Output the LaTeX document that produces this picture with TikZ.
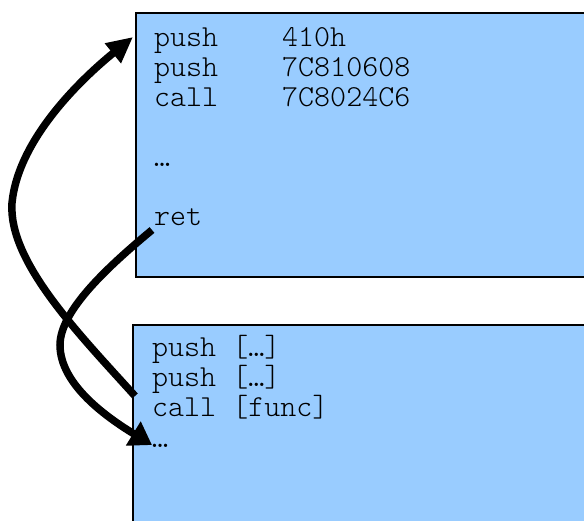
\documentclass[tikz,border=0pt]{standalone}
\usepackage{fontspec}
\setmonofont{lmmonolt10-regular.otf}
\usetikzlibrary{arrows.meta}
\begin{document}
\begin{tikzpicture}[x=1pt,y=-1pt,
  codebox/.style={draw=black,line width=1.6pt,fill=boxblue,anchor=north west,inner sep=0pt},
  asm/.style={anchor=base west,inner sep=0pt,font=\ttfamily\fontsize{30.5}{30}\selectfont},
  flow/.style={line width=7.5pt,line cap=butt}]
\definecolor{boxblue}{RGB}{153,204,255}
\useasboundingbox (0,0) rectangle (584,521);
\clip (0,0) rectangle (584,521);

% the stub that is called and the code that calls it
\node[codebox,minimum width=470pt,minimum height=264pt] (stub) at (135,12) {};
\node[codebox,minimum width=470pt,minimum height=220pt] (caller) at (132,324) {};

% stub listing
\node[asm] (s1) at (154,47) {push};
\node[asm] (s1a) at (282,47) {410h};
\node[asm] (s2) at (154,77) {push};
\node[asm] (s2a) at (282,77) {7C810608};
\node[asm] (s3) at (154,107) {call};
\node[asm] (s3a) at (282,107) {7C8024C6};
\node[asm] (s4) at (154,167) {…};
\node[asm] (s5) at (154,226) {ret};

% caller listing
\node[asm] (c1) at (152,357) {push […]};
\node[asm] (c2) at (152,387) {push […]};
\node[asm] (c3) at (152,417) {call [func]};
\node[asm] (c4) at (152,447) {…};

% control flow: call into the stub, return after the call
\coordinate (callfrom) at (135,396);
\coordinate (stubentry) at (133,37);
\coordinate (retfrom) at (152,230);
\coordinate (retto) at (152,445);

\draw[flow,-{Triangle[length=26pt,width=24pt]}] (callfrom)
  .. controls (80,335) and (8,262) .. (12,203)
  .. controls (18,140) and (80,80) .. (stubentry);
\draw[flow,-{Triangle[length=22pt,width=27pt]}] (retfrom)
  .. controls (110,265) and (60,310) .. (60,345)
  .. controls (60,385) and (108,418) .. (retto);
\end{tikzpicture}
\end{document}
